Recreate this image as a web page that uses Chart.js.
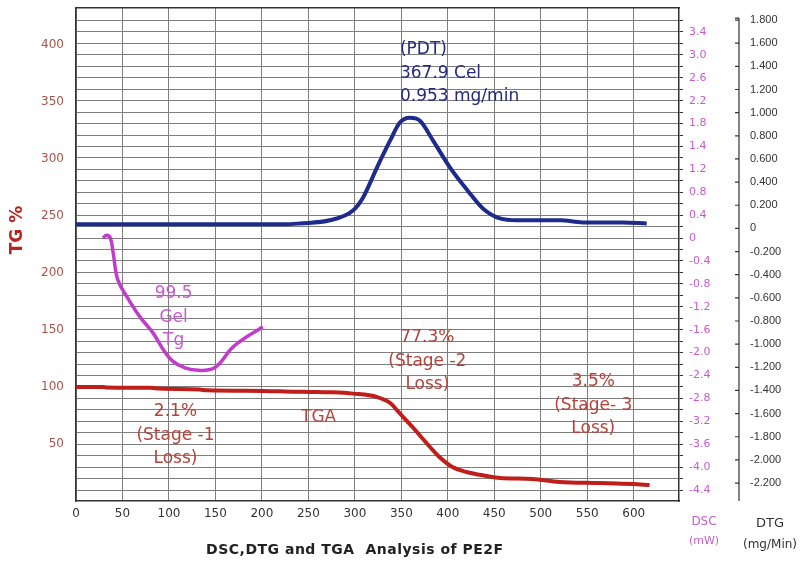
<!DOCTYPE html>
<html>
<head>
<meta charset="utf-8">
<title>DSC, DTG and TGA Analysis of PE2F</title>
<script src="https://cdn.jsdelivr.net/npm/chart.js@4.4.1/dist/chart.umd.min.js"></script>
<style>
  html, body { margin: 0; padding: 0; background: #fff; }
</style>
</head>
<body>
<canvas id="chart" width="801" height="568"></canvas>
<script>
// Axis ticks
const xTicks = [0, 50, 100, 150, 200, 250, 300, 350, 400, 450, 500, 550, 600]
const tgTicks = [50, 100, 150, 200, 250, 300, 350, 400]
const dscTickLabels = ["-4.4", "-4.0", "-3.6", "-3.2", "-2.8", "-2.4", "-2.0", "-1.6", "-1.2", "-0.8", "-0.4",
  "0", "0.4", "0.8", "1.2", "1.4", "1.8", "2.2", "2.6", "3.0", "3.4"]
const dtgTicks = [-2.2, -2.0, -1.8, -1.6, -1.4, -1.2, -1.0, -0.8, -0.6, -0.4, -0.2, 0,
  0.2, 0.4, 0.6, 0.8, 1.0, 1.2, 1.4, 1.6, 1.8]

// TGA (TG %) vs temperature
const tgaTemp = [0, 29, 33, 80, 90, 133, 141, 201, 233, 252, 276, 298, 324, 338, 348, 362, 377, 391, 405, 420, 442, 456, 491, 520, 563, 599, 617]
const tgaValues = [100, 100, 99.6, 99.3, 98.6, 97.8, 97.1, 96.6, 95.9, 95.7, 95.3, 94.2, 91.2, 86, 77.2, 64.9, 50.9, 38.6, 29.8, 25.4, 21.9, 20.2, 19.3, 16.7, 15.8, 14.9, 14.0]

// DTG (mg/min) vs temperature
const dtgTemp = [0, 225, 241, 273, 298, 309, 324, 338, 348, 359, 370, 384, 402, 421, 438, 456, 474, 521, 545, 588, 614]
const dtgValues = [0.035, 0.035, 0.043, 0.07, 0.155, 0.27, 0.53, 0.76, 0.91, 0.955, 0.93, 0.76, 0.53, 0.33, 0.17, 0.086, 0.07, 0.07, 0.052, 0.052, 0.043]

// DSC (mW) vs temperature
const dscTemp = [29, 33, 37, 40, 45, 55, 69, 83, 94, 104, 118, 132, 146, 155, 166, 176, 190, 201]
const dscValues = [0.0, 0.05, 0.0, -0.26, -0.73, -1.03, -1.38, -1.66, -1.95, -2.15, -2.27, -2.31, -2.29, -2.18, -1.95, -1.81, -1.66, -1.55]

// Text notes on the plot (x = temperature, y = TG %)
const notes = [
  { lines: ["(PDT)", "367.9 Cel", "0.953 mg/min"], x: 348.5, y: 395.6, align: "left", color: "#262b80" },
  { lines: ["99.5", "Gel", "Tg"], x: 105, y: 181.6, align: "center", color: "#c65ccc" },
  { lines: ["2.1%", "(Stage -1", "Loss)"], x: 107, y: 78.3, align: "center", color: "#b5433b" },
  { lines: ["TGA"], x: 261, y: 72.8, align: "center", color: "#b5433b" },
  { lines: ["77.3%", "(Stage -2", "Loss)"], x: 378, y: 143, align: "center", color: "#b5433b" },
  { lines: ["3.5%", "(Stage- 3", "Loss)"], x: 556.5, y: 104.4, align: "center", color: "#b5433b" },
]

const toPoints = (xs, ys) => xs.map((x, i) => ({ x, y: ys[i] }))

const GRID = "#7e7e7e"
const FRAME = "#333"

Chart.defaults.font.family = "'DejaVu Sans', sans-serif"

// keep the plot frame where the picture has it: no label overhang padding
const noPad = s => { s.paddingTop = 0; s.paddingBottom = 0; s.paddingLeft = 0; s.paddingRight = 0 }

// extra texts and the detached DTG axis line
const extrasPlugin = {
  id: "extras",
  afterDraw(chart) {
    const { ctx, scales } = chart
    const xs = scales.x, ys = scales.y, dsc = scales.dsc, dtg = scales.dtg
    ctx.save()

    // DTG axis line with ticks on its left side
    ctx.strokeStyle = FRAME
    ctx.lineWidth = 1.2
    const top = dtg.getPixelForValue(dtgTicks[dtgTicks.length - 1]) - 2
    ctx.beginPath()
    ctx.moveTo(dtg.left, top)
    ctx.lineTo(dtg.left, chart.chartArea.bottom)
    dtgTicks.forEach(v => {
      const py = dtg.getPixelForValue(v)
      ctx.moveTo(dtg.left - 4, py)
      ctx.lineTo(dtg.left, py)
    })
    ctx.moveTo(dtg.left - 4, top)
    ctx.lineTo(dtg.left, top)
    ctx.stroke()

    // notes
    ctx.font = "17px 'DejaVu Sans', sans-serif"
    ctx.textBaseline = "middle"
    notes.forEach(n => {
      ctx.fillStyle = n.color
      ctx.textAlign = n.align
      const px = xs.getPixelForValue(n.x)
      const py = ys.getPixelForValue(n.y)
      n.lines.forEach((t, i) => ctx.fillText(t, px, py + i * 23.5))
    })

    // TG % title
    ctx.save()
    ctx.translate(18, 230)
    ctx.rotate(-Math.PI / 2)
    ctx.font = "bold 17px 'DejaVu Sans', sans-serif"
    ctx.fillStyle = "#b3261e"
    ctx.textAlign = "center"
    ctx.fillText("TG %", 0, 0)
    ctx.restore()

    // right axis units
    ctx.textAlign = "center"
    ctx.font = "12px 'DejaVu Sans', sans-serif"
    ctx.fillStyle = "#c65ccc"
    ctx.fillText("DSC", dsc.left + 25, 522)
    ctx.font = "11px 'DejaVu Sans', sans-serif"
    ctx.fillText("(mW)", dsc.left + 25, 541)
    ctx.fillStyle = "#333"
    ctx.font = "13px 'DejaVu Sans', sans-serif"
    ctx.fillText("DTG", dtg.left + 31, 524)
    ctx.font = "12px 'DejaVu Sans', sans-serif"
    ctx.fillText("(mg/Min)", dtg.left + 31, 545)

    // caption
    ctx.font = "bold 14px 'DejaVu Sans', sans-serif"
    ctx.letterSpacing = "0.5px"
    ctx.fillStyle = "#222"
    ctx.fillText("DSC,DTG and TGA  Analysis of PE2F", xs.getPixelForValue(300), 550)
    ctx.restore()
  }
}

new Chart(document.getElementById("chart"), {
  type: "line",
  data: {
    datasets: [
      {
        label: "DTG",
        data: toPoints(dtgTemp, dtgValues),
        yAxisID: "dtg",
        borderColor: "#1e2a8c",
        borderWidth: 4,
      },
      {
        label: "TGA",
        data: toPoints(tgaTemp, tgaValues),
        yAxisID: "y",
        borderColor: "#bf1e1a",
        borderWidth: 4,
      },
      {
        label: "DSC",
        data: toPoints(dscTemp, dscValues),
        yAxisID: "dsc",
        borderColor: "#c23ccb",
        borderWidth: 3.5,
        cubicInterpolationMode: "default",
        tension: 0.4,
      },
    ]
  },
  options: {
    responsive: false,
    animation: false,
    layout: { padding: { top: 8 } },
    elements: {
      point: { radius: 0, hoverRadius: 0 },
      line: { cubicInterpolationMode: "monotone", fill: false },
    },
    plugins: { legend: { display: false }, tooltip: { enabled: false } },
    scales: {
      x: {
        type: "linear",
        position: "bottom",
        min: 0,
        max: 648.7,
        afterBuildTicks: s => { s.ticks = xTicks.map(v => ({ value: v })) },
        afterFit: s => { s.height = 67; noPad(s) },
        ticks: { color: "#333", font: { size: 12 }, padding: 6, maxRotation: 0, autoSkip: false },
        grid: { color: GRID, lineWidth: 1, drawTicks: false },
        border: { color: FRAME, width: 1.5 },
      },
      x2: {
        type: "linear",
        axis: "x",
        position: "top",
        min: 0,
        max: 648.7,
        afterFit: s => { s.height = 0; noPad(s) },
        ticks: { display: false },
        grid: { display: false, drawTicks: false },
        border: { color: FRAME, width: 1.5 },
      },
      y: {
        type: "linear",
        position: "left",
        min: 0,
        max: 432.5,
        afterBuildTicks: s => { s.ticks = tgTicks.map(v => ({ value: v })) },
        afterFit: s => { s.width = 76; noPad(s) },
        ticks: { color: "#a9524a", font: { size: 12 }, padding: 12, autoSkip: false },
        grid: { drawOnChartArea: false, drawTicks: false },
        border: { color: FRAME, width: 1.5 },
      },
      dsc: {
        type: "linear",
        position: "right",
        weight: 1,
        min: -4.592,
        max: 4.019,
        afterBuildTicks: s => {
          const t = []
          for (let i = 0; i <= 41; i++) t.push({ value: Math.round((-4.4 + 0.2 * i) * 10) / 10 })
          s.ticks = t
        },
        afterFit: s => { s.width = 60; noPad(s) },
        ticks: {
          color: "#c65ccc",
          font: { size: 11 },
          padding: 6,
          autoSkip: false,
          callback: v => {
            const k = Math.round((v + 4.4) / 0.2)
            return k % 2 === 0 && k / 2 < dscTickLabels.length ? dscTickLabels[k / 2] : ""
          }
        },
        grid: { color: GRID, lineWidth: 1, tickLength: 4, tickColor: FRAME },
        border: { color: FRAME, width: 1.5 },
      },
      dtg: {
        type: "linear",
        position: "right",
        weight: 2,
        min: -2.355,
        max: 1.904,
        afterBuildTicks: s => { s.ticks = dtgTicks.map(v => ({ value: v })) },
        afterFit: s => { s.width = 62; noPad(s) },
        ticks: {
          color: "#333",
          font: { family: "'Liberation Sans', Arial, sans-serif", size: 11 },
          padding: 11,
          autoSkip: false,
          callback: v => (v === 0 ? "0" : v.toFixed(3))
        },
        grid: { drawOnChartArea: false, drawTicks: false },
        border: { display: false },
      },
    }
  },
  plugins: [extrasPlugin]
})
</script>
</body>
</html>
